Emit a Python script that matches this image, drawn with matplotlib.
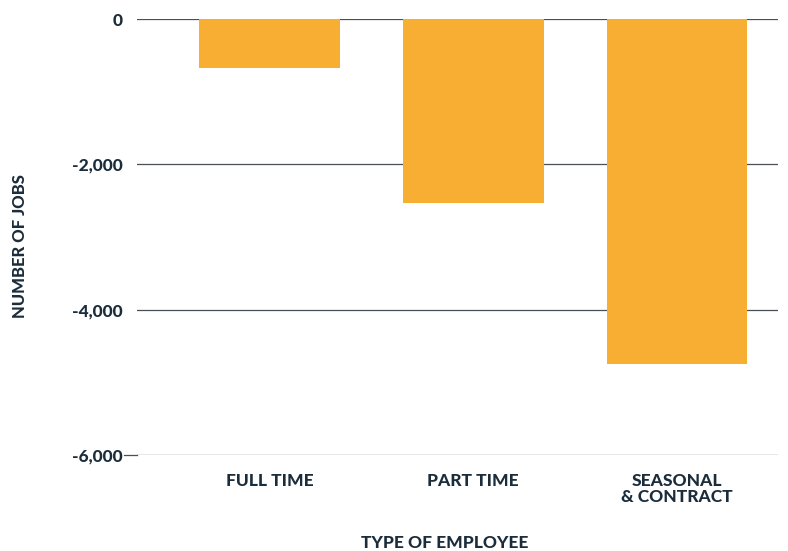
import matplotlib.pyplot as plt
from matplotlib.ticker import FuncFormatter

categories = ["FULL TIME", "PART TIME", "SEASONAL\n& CONTRACT"]
jobs = [-670, -2530, -4750]
yticks = [0, -2000, -4000, -6000]

navy = "#1b2d3b"
bar_color = "#f7ae32"

plt.rcParams["font.family"] = ["Lato", "DejaVu Sans"]

fig = plt.figure(figsize=(7.88, 5.51), dpi=100)
ax = fig.add_axes([137 / 788, 1 - 455 / 551, 641 / 788, 436 / 551])

x = list(range(len(categories)))
ax.bar(x, jobs, width=0.69, color=bar_color, zorder=2)

ax.set_ylim(-6000, 0)
ax.set_xlim(-0.65, 2.495)
ax.set_yticks(yticks)
ax.yaxis.set_major_formatter(FuncFormatter(lambda v, p: f"{int(v):,}"))
for y in yticks:
    ax.axhline(y, color="#4a4f55", lw=0.9, zorder=1)
# bottom line runs out to meet the -6,000 label
ax.plot([-0.715, -0.65], [-6000, -6000], color="#4a4f55", lw=0.9, clip_on=False)

ax.set_xticks(x)
ax.set_xticklabels(categories, fontsize=12.5, fontweight="black", color=navy, linespacing=1.0)
ax.tick_params(axis="x", length=0, pad=13)
ax.tick_params(axis="y", length=0, pad=10, labelsize=12.5, labelcolor=navy)
for lab in ax.get_yticklabels():
    lab.set_fontweight("black")

for s in ax.spines.values():
    s.set_visible(False)

fig.text(445 / 788, 1 - 543 / 551, "TYPE OF EMPLOYEE", ha="center", va="center",
         fontsize=12.5, fontweight="black", color=navy)
fig.text(20 / 788, 1 - 246 / 551, "NUMBER OF JOBS", ha="center", va="center",
         rotation=90, fontsize=12, fontweight="black", color=navy)

fig.savefig("out.png", dpi=100)
